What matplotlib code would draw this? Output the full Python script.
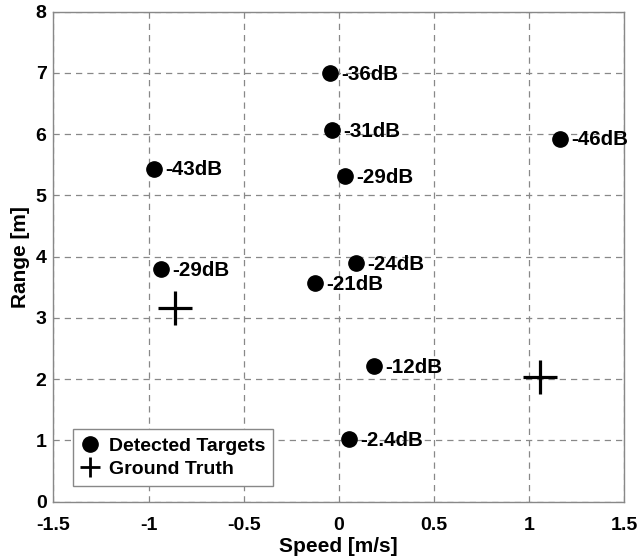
import matplotlib
matplotlib.use("Agg")
import matplotlib.pyplot as plt

plt.rcParams["font.family"] = ["Liberation Sans", "DejaVu Sans"]
plt.rcParams["font.weight"] = "bold"

# detected targets (speed m/s, range m, level)
det_speed = [-0.044, -0.035, 1.163, -0.972, 0.032, -0.933, 0.089, -0.126, 0.184, 0.056]
det_range = [7.00, 6.07, 5.93, 5.44, 5.31, 3.80, 3.89, 3.57, 2.21, 1.02]
det_label = ["-36dB", "-31dB", "-46dB", "-43dB", "-29dB", "-29dB", "-24dB", "-21dB", "-12dB", "-2.4dB"]

# ground truth
gt_speed = [-0.863, 1.058]
gt_range = [3.16, 2.04]

fig = plt.figure(figsize=(6.39, 5.59), dpi=100)
ax = fig.add_axes([0.0837, 0.1025, 0.8928, 0.8765])

ax.plot(det_speed, det_range, "o", color="black", markersize=11, label="Detected Targets")
ax.plot(gt_speed, gt_range, "+", color="black", markersize=25, markeredgewidth=2.3, label="Ground Truth")

for x, y, s in zip(det_speed, det_range, det_label):
    ax.annotate(s, (x, y), xytext=(8, -1), textcoords="offset points",
                va="center", ha="left", fontsize=14.8, fontweight="bold")

ax.set_xlim(-1.5, 1.5)
ax.set_ylim(0, 8)
ax.set_xticks([-1.5, -1, -0.5, 0, 0.5, 1, 1.5])
ax.set_xticklabels(["-1.5", "-1", "-0.5", "0", "0.5", "1", "1.5"])
ax.set_yticks(range(9))
ax.tick_params(labelsize=14, length=0)
ax.tick_params(axis="x", pad=11)
ax.tick_params(axis="y", pad=5)
ax.grid(True, linestyle=(0, (5, 4)), color="#888888", linewidth=0.9)
for sp in ax.spines.values():
    sp.set_color("#888888")
    sp.set_linewidth(1.0)

ax.set_xlabel("Speed [m/s]", fontsize=15, fontweight="bold", labelpad=2)
ax.set_ylabel("Range [m]", fontsize=15, fontweight="bold", labelpad=4)

leg = ax.legend(loc="lower left", bbox_to_anchor=(0.034, 0.032), borderaxespad=0,
                fontsize=14, frameon=True, fancybox=False, edgecolor="#888888",
                framealpha=1, handlelength=1.0, handletextpad=0.45,
                borderpad=0.4, labelspacing=0.3)
leg.get_frame().set_linewidth(1.0)
leg.legend_handles[1].set_markersize(14)
leg.legend_handles[1].set_markeredgewidth(2.0)
for t in leg.get_texts():
    t.set_fontweight("bold")

fig.savefig("out.png", dpi=100)
